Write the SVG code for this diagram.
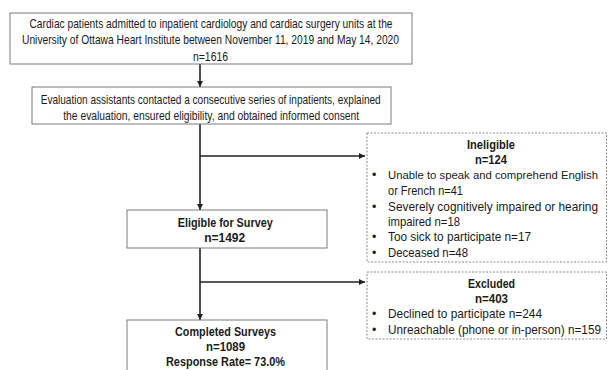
<svg xmlns="http://www.w3.org/2000/svg" width="608" height="370" viewBox="0 0 608 370">
<defs>
<style>
text{font-family:"Liberation Sans",Arial,sans-serif;font-size:12.4px;fill:#1a1a1a}
.s{font-size:12.4px}
.n{font-size:12px}
.m{font-size:11.8px}
.c{text-anchor:middle}
.b{font-weight:bold}
.box{fill:#fff;stroke:#7a7a7a;stroke-width:1}
.dbox{fill:#fff;stroke:#8a8a8a;stroke-width:1;stroke-dasharray:2 1.5}
.con{fill:none;stroke:#222;stroke-width:1.6}
</style>
<marker id="ah" viewBox="0 0 10 10" refX="10" refY="5" markerWidth="4" markerHeight="4" orient="auto" markerUnits="strokeWidth">
<path d="M0,0 L10,5 L0,10 z" fill="#222"/>
</marker>
</defs>
<rect width="608" height="370" fill="#fff"/>
<g id="connectors">
<line class="con" x1="200" y1="64" x2="200" y2="87" marker-end="url(#ah)"/>
<line class="con" x1="200" y1="124" x2="200" y2="210" marker-end="url(#ah)"/>
<line class="con" x1="200" y1="156" x2="365" y2="156" marker-end="url(#ah)"/>
<line class="con" x1="200" y1="248" x2="200" y2="320" marker-end="url(#ah)"/>
<line class="con" x1="200" y1="282" x2="365" y2="282" marker-end="url(#ah)"/>
</g>
<g id="n1">
<rect class="box" x="10" y="13" width="402" height="51"/>
<text class="c s" x="211" y="27.5" textLength="363" lengthAdjust="spacingAndGlyphs">Cardiac patients admitted to inpatient cardiology and cardiac surgery units at the</text>
<text class="c s" x="210.5" y="43.5" textLength="377" lengthAdjust="spacingAndGlyphs">University of Ottawa Heart Institute between November 11, 2019 and May 14, 2020</text>
<text class="c s" x="210.5" y="60.5" textLength="35" lengthAdjust="spacingAndGlyphs">n=1616</text>
</g>
<g id="n2">
<rect class="box" x="32" y="87" width="359" height="37"/>
<text class="c s" x="210.7" y="103.5" textLength="340" lengthAdjust="spacingAndGlyphs">Evaluation assistants contacted a consecutive series of inpatients, explained</text>
<text class="c s" x="211.2" y="119.5" textLength="296" lengthAdjust="spacingAndGlyphs">the evaluation, ensured eligibility, and obtained informed consent</text>
</g>
<g id="n3">
<rect class="box" x="127" y="210" width="200" height="38"/>
<text class="c b" x="225.2" y="226.5" textLength="95" lengthAdjust="spacingAndGlyphs">Eligible for Survey</text>
<text class="c b" x="224.7" y="241.5" textLength="41" lengthAdjust="spacingAndGlyphs">n=1492</text>
</g>
<g id="n4">
<rect class="box" x="127" y="320" width="200" height="60"/>
<text class="c b" x="225.5" y="335.5" textLength="101" lengthAdjust="spacingAndGlyphs">Completed Surveys</text>
<text class="c b" x="225.5" y="350.5" textLength="39" lengthAdjust="spacingAndGlyphs">n=1089</text>
<text class="c b" x="225.5" y="365.5" textLength="119" lengthAdjust="spacingAndGlyphs">Response Rate= 73.0%</text>
</g>
<g id="n5">
<rect class="dbox" x="367" y="133" width="239.5" height="129"/>
<text class="c b" x="491" y="148.5" textLength="48" lengthAdjust="spacingAndGlyphs">Ineligible</text>
<text class="c b" x="491" y="163.5" textLength="32" lengthAdjust="spacingAndGlyphs">n=124</text>
<text x="372" y="178.5">•</text><text class="m" x="388" y="178.5" textLength="210" lengthAdjust="spacingAndGlyphs">Unable to speak and comprehend English</text>
<text x="388" y="194.5" textLength="75" lengthAdjust="spacingAndGlyphs">or French n=41</text>
<text x="372" y="210.5">•</text><text x="388" y="210.5" textLength="210" lengthAdjust="spacingAndGlyphs">Severely cognitively impaired or hearing</text>
<text x="388" y="225.5" textLength="72" lengthAdjust="spacingAndGlyphs">impaired n=18</text>
<text x="372" y="240.5">•</text><text x="388" y="240.5" textLength="143" lengthAdjust="spacingAndGlyphs">Too sick to participate n=17</text>
<text x="372" y="256.5">•</text><text x="388" y="256.5" textLength="80" lengthAdjust="spacingAndGlyphs">Deceased n=48</text>
</g>
<g id="n6">
<rect class="dbox" x="367" y="272" width="239.5" height="67"/>
<text class="c b" x="491.5" y="287.5" textLength="47" lengthAdjust="spacingAndGlyphs">Excluded</text>
<text class="c b" x="491.5" y="302.5" textLength="33" lengthAdjust="spacingAndGlyphs">n=403</text>
<text x="372" y="317.5">•</text><text x="388" y="317.5" textLength="154" lengthAdjust="spacingAndGlyphs">Declined to participate n=244</text>
<text x="372" y="333.5">•</text><text class="n" x="388" y="333.5" textLength="213" lengthAdjust="spacingAndGlyphs">Unreachable (phone or in-person)  n=159</text>
</g>
</svg>
